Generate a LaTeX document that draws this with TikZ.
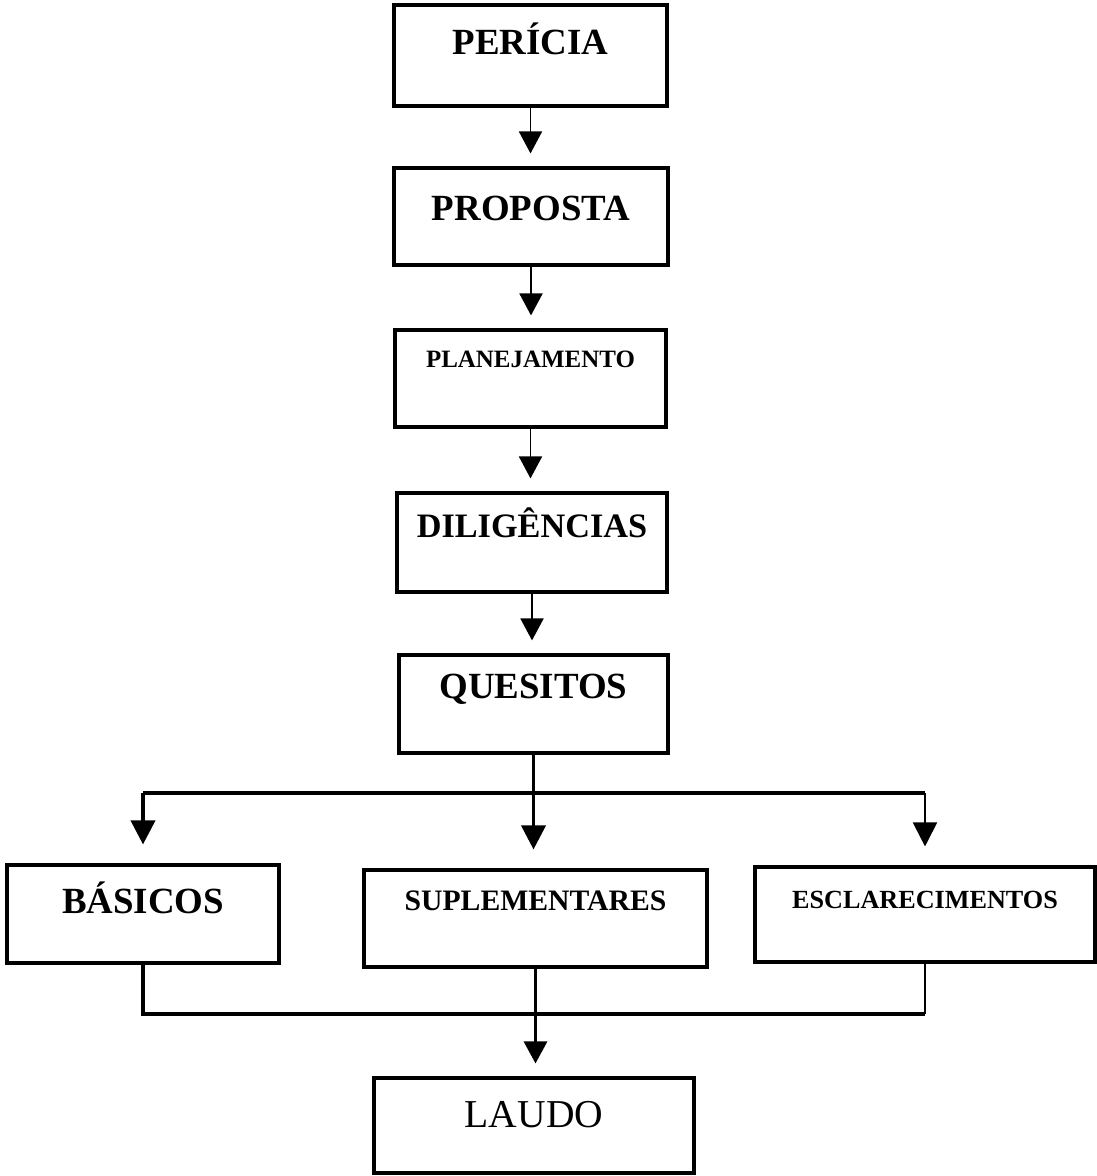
\documentclass[tikz,border=0pt]{standalone}
\usepackage{fontspec}
\setmainfont{Liberation Serif}
\usepackage{tikz}
\usetikzlibrary{arrows.meta,positioning,calc}

\begin{document}
\begin{tikzpicture}[x=0.02cm, y=-0.02cm,
    box/.style={rectangle, draw=black, line width=1.8pt, inner sep=0pt, fill=white},
    big/.style={font={\fontsize{21}{24}\selectfont\bfseries}},
    mid/.style={font={\fontsize{15}{18}\selectfont\bfseries}},
    arr/.style={-{Triangle[length=0.44cm, width=0.46cm]}, line width=1.1pt, shorten >=0.26cm},
    brarr/.style={-{Triangle[length=0.48cm, width=0.48cm]}, line width=2.2pt, shorten >=0.38cm},
    bar/.style={line width=2.2pt}
]
    \useasboundingbox (0,0) rectangle (1096,1176);

    % main chain
    \node[box, big, minimum width=5.46cm, text height=1.0cm, text depth=1.02cm] (peri) at (530.5, 55.5) {PERÍCIA};
    \node[box, big, minimum width=5.48cm, text height=1.04cm, text depth=0.90cm] (prop) at (531, 216.5) {PROPOSTA};
    \node[box, font={\fontsize{14.2}{17}\selectfont\bfseries}, minimum width=5.42cm, text height=0.74cm, text depth=1.20cm] (plan) at (530.5, 378.5) {PLANEJAMENTO};
    \node[box, font={\fontsize{19.5}{22}\selectfont\bfseries}, minimum width=5.40cm, text height=0.88cm, text depth=1.10cm] (dili) at (532, 542.5) {DILIGÊNCIAS};
    \node[box, big, minimum width=5.38cm, text height=0.86cm, text depth=1.10cm] (ques) at (533.5, 704) {QUESITOS};

    \draw[arr] (peri.south) -- (peri.south |- prop.north);
    \draw[arr] (prop.south) -- (prop.south |- plan.north);
    \draw[arr] (plan.south) -- (plan.south |- dili.north);
    \draw[arr] (dili.south) -- (dili.south |- ques.north);

    % kinds of quesitos
    \node[box, big, minimum width=5.44cm, text height=0.96cm, text depth=1.00cm] (basi) at (143, 914) {BÁSICOS};
    \node[box, font={\fontsize{16.9}{20}\selectfont\bfseries}, minimum width=6.86cm, text height=0.80cm, text depth=1.14cm] (supl) at (535.5, 918.5) {SUPLEMENTARES};
    \node[box, font={\fontsize{14.9}{18}\selectfont\bfseries}, minimum width=6.80cm, text height=0.82cm, text depth=1.08cm] (escl) at (925, 914.5) {ESCLARECIMENTOS};

    \coordinate (split) at (535, 793);
    \draw[bar] (basi.north |- split) -- (escl.north |- split);
    \draw[brarr] (ques.south) -- (ques.south |- supl.north);
    \draw[brarr] (basi.north |- split) -- (basi.north);
    \draw[brarr, line width=1.1pt] (escl.north |- split) -- (escl.north);

    % laudo
    \node[box, font={\fontsize{22.5}{26}\selectfont}, minimum width=6.40cm, text height=0.98cm, text depth=0.92cm] (laud) at (534, 1125.5) {LAUDO};

    \coordinate (join) at (535, 1014);
    \draw[line width=1.8pt] (basi.south) |- (escl.south |- join);
    \draw[line width=0.9pt] (escl.south |- join) -- (escl.south);
    \draw[arr, line width=1.8pt] (supl.south) -- (supl.south |- laud.north);
\end{tikzpicture}
\end{document}
